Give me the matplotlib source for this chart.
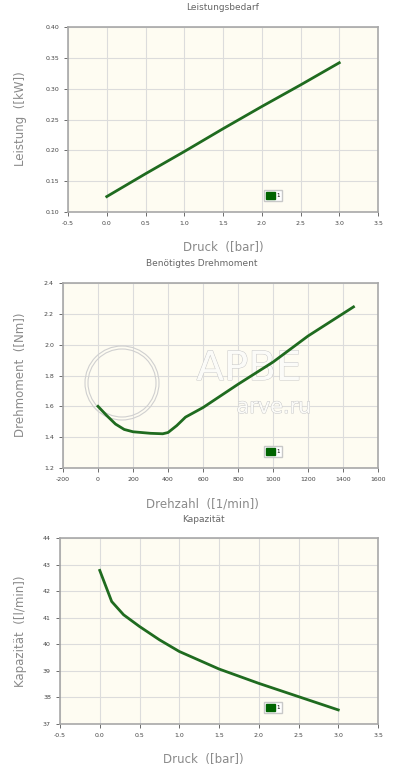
import numpy as np
import matplotlib
matplotlib.use("Agg")
import matplotlib.pyplot as plt
import matplotlib.patheffects as pe
from matplotlib.patches import Patch, Circle

plt.rcParams["axes.unicode_minus"] = False

# Leistungsbedarf
druck_p = [0.0, 0.5, 1.0, 1.5, 2.0, 2.5, 3.0]
leistung = [0.125, 0.162, 0.198, 0.235, 0.271, 0.306, 0.342]

# Drehmoment
drehzahl = [0, 50, 100, 150, 200, 300, 370, 400, 450, 500, 600, 800, 1000, 1200, 1460]
drehmoment = [1.60, 1.54, 1.485, 1.45, 1.435, 1.425, 1.422, 1.43, 1.475, 1.53, 1.592,
              1.743, 1.887, 2.056, 2.245]

# Kapazitaet
druck_k = [0.0, 0.15, 0.3, 0.5, 0.75, 1.0, 1.5, 2.0, 2.5, 3.0]
kapazitaet = [42.78, 41.61, 41.11, 40.67, 40.17, 39.73, 39.07, 38.53, 38.03, 37.53]

W, H = 395, 768
LINE = "#1f6b1f"
BG = "#fefcf2"
GRID = "#dcdcdc"
LABEL = "#8a8a8a"

fig = plt.figure(figsize=(W / 100, H / 100), dpi=100)


def px_axes(l, t, r, b):
    return fig.add_axes([l / W, 1 - b / H, (r - l) / W, (b - t) / H])


def style(ax, title, title_y, xlabel, xlabel_y, ylabel, cx, leg_y, ylab_y):
    ax.set_facecolor(BG)
    ax.grid(True, color=GRID, linewidth=0.8)
    ax.set_axisbelow(True)
    for s in ax.spines.values():
        s.set_color("#a8a8a8")
        s.set_linewidth(1.2)
    ax.tick_params(labelsize=4.5, colors="#555555", length=3, width=0.6)
    for lab in ax.get_xticklabels() + ax.get_yticklabels():
        lab.set_color("#444444")
    fig.text(cx / W, 1 - title_y / H, title, ha="center", va="center",
             fontsize=6.5, color="#666666")
    fig.text(cx / W, 1 - xlabel_y / H, xlabel, ha="center", va="center",
             fontsize=8.5, color=LABEL)
    ax.set_ylabel(ylabel, fontsize=8.5, color=LABEL)
    ax.yaxis.set_label_coords(27 / W, 1 - ylab_y / H, transform=fig.transFigure)
    leg = ax.legend(handles=[Patch(facecolor="#006400", edgecolor="#006400")],
                    labels=["1"], fontsize=4, loc="center",
                    bbox_to_anchor=(273 / W, 1 - leg_y / H),
                    bbox_transform=fig.transFigure,
                    handlelength=1.5, handleheight=1.5, handletextpad=0.3,
                    borderpad=0.35, fancybox=False, framealpha=1)
    leg.get_frame().set_edgecolor("#c8c8c8")
    leg.get_frame().set_linewidth(1.0)


# panel 1
ax1 = px_axes(68, 27, 378, 212)
ax1.plot(druck_p, leistung, color=LINE, linewidth=2, zorder=3)
ax1.set_xlim(-0.5, 3.5)
ax1.set_ylim(0.10, 0.40)
ax1.set_xticks(np.arange(-0.5, 3.51, 0.5))
ax1.set_yticks(np.arange(0.10, 0.401, 0.05))
ax1.set_xticklabels([f"{v:.1f}" for v in np.arange(-0.5, 3.51, 0.5)])
ax1.set_yticklabels([f"{v:.2f}" for v in np.arange(0.10, 0.401, 0.05)])
style(ax1, "Leistungsbedarf", 7, "Druck  ([bar])", 248, "Leistung  ([kW])", 223,
      195.5, 119)

# panel 2
ax2 = px_axes(63, 283, 378, 468)
ax2.plot(drehzahl, drehmoment, color=LINE, linewidth=2, zorder=3)
ax2.set_xlim(-200, 1600)
ax2.set_ylim(1.2, 2.4)
ax2.set_xticks(np.arange(-200, 1601, 200))
ax2.set_yticks(np.arange(1.2, 2.41, 0.2))
ax2.set_yticklabels([f"{v:.1f}" for v in np.arange(1.2, 2.41, 0.2)])
style(ax2, "Benötigtes Drehmoment", 263, "Drehzahl  ([1/min])", 504,
      "Drehmoment  ([Nm])", 202, 451.5, 375)

# panel 3
ax3 = px_axes(60, 538, 378, 724)
ax3.plot(druck_k, kapazitaet, color=LINE, linewidth=2, zorder=3)
ax3.set_xlim(-0.5, 3.5)
ax3.set_ylim(37, 44)
ax3.set_xticks(np.arange(-0.5, 3.51, 0.5))
ax3.set_xticklabels([f"{v:.1f}" for v in np.arange(-0.5, 3.51, 0.5)])
ax3.set_yticks(np.arange(37, 44.1, 1))
style(ax3, "Kapazität", 519, "Druck  ([bar])", 760, "Kapazität  ([l/min])", 203,
      707.5, 631)

# faint watermark behind the middle curve
wm = [pe.withStroke(linewidth=0.7, foreground="#c8c8c8")]
ax2.text(249 / W, 1 - 369 / H, "АРВЕ", ha="center", va="center", fontsize=29,
         color="#fbfbf8", path_effects=wm, zorder=2, transform=fig.transFigure)
ax2.text(274 / W, 1 - 407 / H, "arve.ru", ha="center", va="center", fontsize=15,
         color="#fbfbf8", path_effects=wm, zorder=2, transform=fig.transFigure)
for r in (0.37, 0.34):
    ax2.add_patch(Circle((1.22, (H - 383) / 100), r,
                         transform=fig.dpi_scale_trans, fill=False,
                         edgecolor="#d0d0d0", linewidth=0.8, zorder=2,
                         clip_on=False))

fig.savefig("out.png", dpi=100, facecolor="white")
